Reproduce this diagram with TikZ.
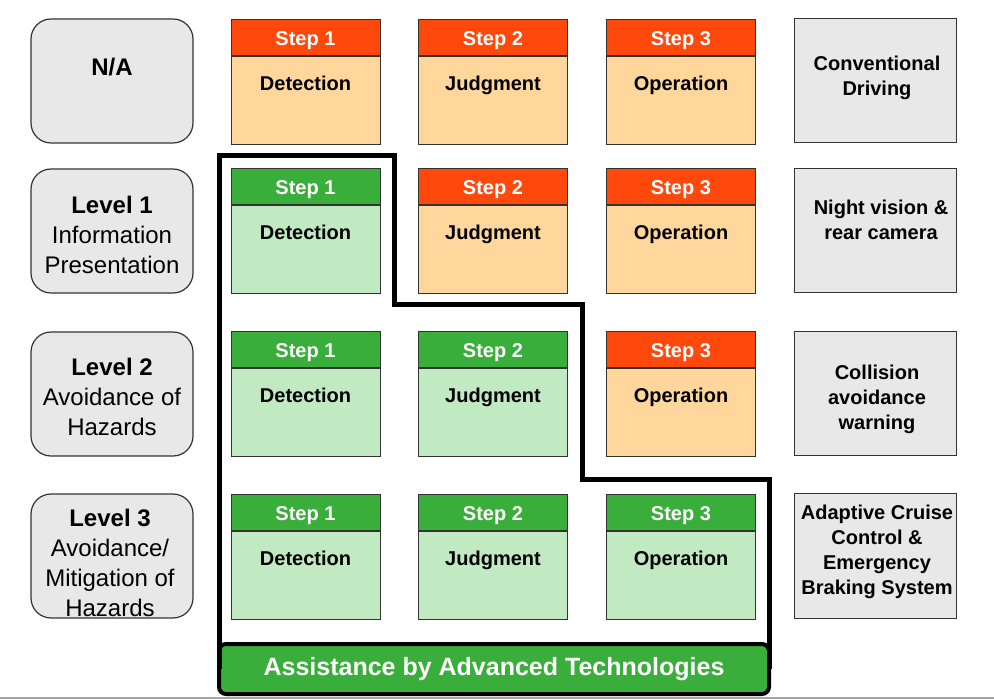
\documentclass[tikz,border=0pt]{standalone}
\usepackage{fontspec}
\setmainfont{Liberation Sans}

\definecolor{stepred}{RGB}{255,72,12}
\definecolor{steppeach}{RGB}{255,214,155}
\definecolor{stepgreen}{RGB}{58,174,58}
\definecolor{stepmint}{RGB}{193,234,194}
\definecolor{boxgrey}{RGB}{232,232,232}

\tikzset{
  lvlbox/.style={draw=black!80, fill=boxgrey, line width=1.2pt, rounded corners=20pt,
    minimum width=162pt, minimum height=124pt},
  infobox/.style={draw=black!80, fill=boxgrey, line width=1pt,
    minimum width=162pt, minimum height=124pt},
  lvltext/.style={align=center, font=\fontsize{24}{30}\selectfont},
  infotext/.style={align=center, font=\bfseries\fontsize{20}{25}\selectfont},
  stephead/.style={draw=black!80, line width=1pt, anchor=north, inner sep=0pt,
    minimum width=149pt, minimum height=36pt, text=white, text height=17pt, text depth=0pt,
    font=\bfseries\fontsize{20}{24}\selectfont},
  redhead/.style={stephead, fill=stepred},
  greenhead/.style={stephead, fill=stepgreen},
  stepbody/.style={draw=black!80, line width=1pt, anchor=north, inner sep=0pt,
    minimum width=149pt, minimum height=88pt, text height=15pt, text depth=35pt,
    font=\bfseries\fontsize{20}{24}\selectfont},
  peachbody/.style={stepbody, fill=steppeach},
  mintbody/.style={stepbody, fill=stepmint},
  outline/.style={line width=5pt},
  techbar/.style={draw, line width=4pt, fill=stepgreen, rounded corners=7pt, outer sep=0pt,
    minimum width=550pt, minimum height=50pt, text=white,
    font=\bfseries\fontsize{25}{30}\selectfont}
}

\begin{document}
\begin{tikzpicture}[x=1pt, y=-1pt]
  \useasboundingbox (0,0) rectangle (994,700);
  \draw[black!35, line width=1.5pt] (0,698) -- (994,698);

  % levels
  \node[lvlbox] (na) at (112,81) {};
  \node[lvltext] (natext) at (112,67) {\textbf{N/A}};
  \node[lvlbox] (lvl1) at (112,231) {};
  \node[lvltext] (lvl1text) at (112,235) {\textbf{Level 1}\\Information\\Presentation};
  \node[lvlbox] (lvl2) at (112,394) {};
  \node[lvltext] (lvl2text) at (112,397) {\textbf{Level 2}\\Avoidance of\\Hazards};
  \node[lvlbox] (lvl3) at (112,556) {};
  \node[lvltext] (lvl3text) at (110,563) {\textbf{Level 3}\\Avoidance/\\Mitigation of\\Hazards};

  % conventional driving
  \node[redhead] (h01) at (305.5,19) {Step 1};
  \node[peachbody] (b01) at (h01.south) {Detection};
  \node[redhead] (h02) at (493,19) {Step 2};
  \node[peachbody] (b02) at (h02.south) {Judgment};
  \node[redhead] (h03) at (681,19) {Step 3};
  \node[peachbody] (b03) at (h03.south) {Operation};

  % level 1
  \node[greenhead] (h11) at (305.5,168) {Step 1};
  \node[mintbody] (b11) at (h11.south) {Detection};
  \node[redhead] (h12) at (493,168) {Step 2};
  \node[peachbody] (b12) at (h12.south) {Judgment};
  \node[redhead] (h13) at (681,168) {Step 3};
  \node[peachbody] (b13) at (h13.south) {Operation};

  % level 2
  \node[greenhead] (h21) at (305.5,331) {Step 1};
  \node[mintbody] (b21) at (h21.south) {Detection};
  \node[greenhead] (h22) at (493,331) {Step 2};
  \node[mintbody] (b22) at (h22.south) {Judgment};
  \node[redhead] (h23) at (681,331) {Step 3};
  \node[peachbody] (b23) at (h23.south) {Operation};

  % level 3
  \node[greenhead] (h31) at (305.5,494) {Step 1};
  \node[mintbody] (b31) at (h31.south) {Detection};
  \node[greenhead] (h32) at (493,494) {Step 2};
  \node[mintbody] (b32) at (h32.south) {Judgment};
  \node[greenhead] (h33) at (681,494) {Step 3};
  \node[mintbody] (b33) at (h33.south) {Operation};

  % examples
  \node[infobox] (ex0) at (875,81) {};
  \node[infotext] (ex0text) at (877,78) {Conventional\\Driving};
  \node[infobox] (ex1) at (875,231) {};
  \node[infotext] (ex1text) at (881,220) {Night vision \&\\rear camera};
  \node[infobox] (ex2) at (875,394) {};
  \node[infotext] (ex2text) at (877,399) {Collision\\avoidance\\warning};
  \node[infobox] (ex3) at (875,556) {};
  \node[infotext] (ex3text) at (877,552) {Adaptive Cruise\\Control \&\\Emergency\\Braking System};

  % assisted region
  \node[techbar] (bar) at (494,669) {Assistance by Advanced Technologies};
  \draw[outline] (bar.west) -- (219,156) -- (394,156) -- (394,305) -- (582,305)
    -- (582,480) -- (769,480) -- (bar.east);
\end{tikzpicture}
\end{document}
